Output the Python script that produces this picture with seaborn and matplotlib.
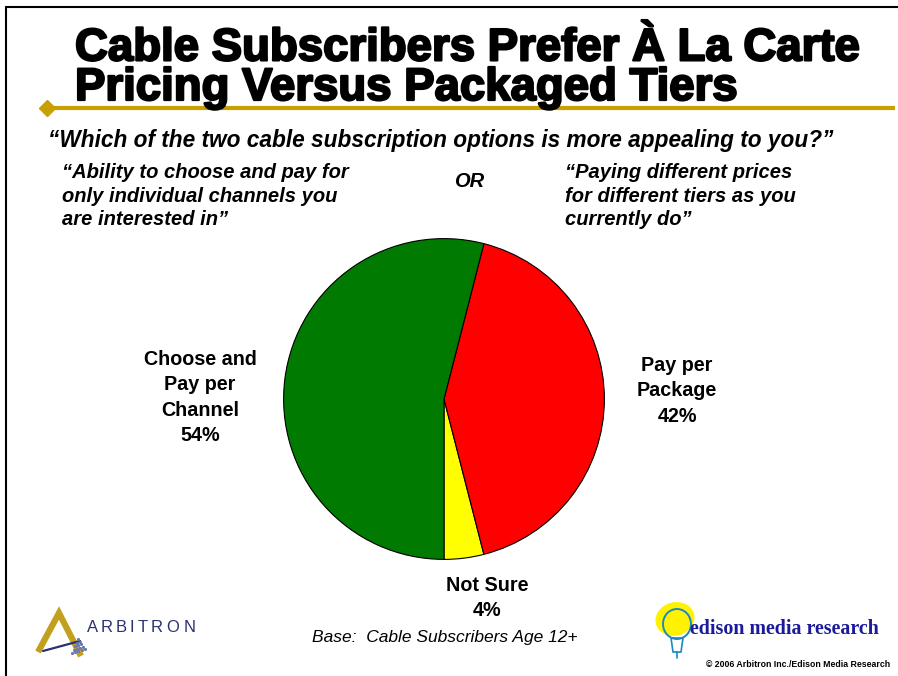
import matplotlib
matplotlib.use("Agg")
import matplotlib.pyplot as plt
import matplotlib.patheffects as pe
from matplotlib.patches import Ellipse, Polygon
import seaborn as sns

# ---- data ----
categories = ["Not Sure", "Pay per\nPackage", "Choose and\nPay per\nChannel"]
shares = [4, 42, 54]
slice_colors = ["#FFFF00", "#FF0000", "#007A00"]

title_lines = ["Cable Subscribers Prefer À La Carte", "Pricing Versus Packaged Tiers"]
question = "\u201cWhich of the two cable subscription options is more appealing to you?\u201d"
left_option = ["\u201cAbility to choose and pay for", "only individual channels you", "are interested in\u201d"]
right_option = ["\u201cPaying different prices", "for different tiers as you", "currently do\u201d"]
base_note = "Base:  Cable Subscribers Age 12+"
copyright_note = "\u00a9 2006 Arbitron Inc./Edison Media Research"

sns.set_theme(style="white")
plt.rcParams["font.family"] = ["Liberation Sans", "DejaVu Sans"]
plt.rcParams["text.color"] = "black"

W, H = 898, 676
fig = plt.figure(figsize=(W / 100, H / 100), dpi=100)
fig.patch.set_facecolor("white")

# full-page overlay working in pixel coordinates
bg = fig.add_axes([0, 0, 1, 1])
bg.set_xlim(0, W)
bg.set_ylim(H, 0)
bg.axis("off")

# page frame
bg.plot([5, W], [7, 7], color="black", lw=1.5, solid_capstyle="butt")
bg.plot([6, 6], [7, H], color="black", lw=1.5, solid_capstyle="butt")

# title (two lines, heavy weight); baseline refers to the last line
bg.text(75, 100, "\n".join(title_lines), fontsize=32.8, fontweight="bold",
        ha="left", va="baseline", linespacing=0.87, color="black",
        path_effects=[pe.withStroke(linewidth=1.6, foreground="black")])

# gold rule with diamond
gold = "#C8A000"
bg.plot([47, 895], [108, 108], color=gold, lw=3, solid_capstyle="butt")
bg.plot([47], [108], marker="D", color=gold, markersize=8)

# question and the two options
bg.text(48, 147, question, fontsize=16.3, fontweight="bold", style="italic",
        ha="left", va="baseline")
for i, line in enumerate(left_option):
    bg.text(62, 178 + i * 23.5, line, fontsize=14.5, fontweight="bold",
            style="italic", ha="left", va="baseline")
for i, line in enumerate(right_option):
    bg.text(565, 178 + i * 23.5, line, fontsize=14.5, fontweight="bold",
            style="italic", ha="left", va="baseline")
bg.text(454, 187, "OR", fontsize=14.5, fontweight="bold", style="italic",
        ha="left", va="baseline")

# pie
cx, cy, r = 444, 399, 162
pie_ax = fig.add_axes([(cx - r) / W, (H - cy - r) / H, 2 * r / W, 2 * r / H])
pie_ax.pie(shares, colors=slice_colors, startangle=-90, counterclock=True,
           wedgeprops=dict(edgecolor="black", linewidth=0.8))
pie_ax.set_xlim(-1.01, 1.01)
pie_ax.set_ylim(-1.01, 1.01)
pie_ax.set_aspect("equal")
pie_ax.axis("off")

# slice labels: (centre x, first baseline)
label_pos = [(487, 591), (677, 371), (200, 365)]
for cat, val, (lx, ly) in zip(categories, shares, label_pos):
    lines = cat.split("\n") + [f"{val}%"]
    for i, line in enumerate(lines):
        bg.text(lx, ly + i * 25.3, line, fontsize=14.2, fontweight="bold",
                ha="center", va="baseline")

# base note and copyright
bg.text(445, 642, base_note, fontsize=12.5, style="italic", ha="center", va="baseline")
bg.text(890, 667, copyright_note, fontsize=6.3, fontweight="bold", ha="right",
        va="baseline")

# Arbitron mark
navy = "#2B3170"
bg.plot([38, 59, 81], [652, 613, 656], color="#C2A01E", lw=4.5,
        solid_joinstyle="miter", solid_capstyle="butt")
bg.plot([43, 80], [651, 641], color=navy, lw=1.6)
for j in range(5):
    for k in range(5 - j):
        bg.plot(72 + k * 3.2 + j * 1.5, 653 - j * 3.5 - k * 1.0, marker="s",
                markersize=1.1, color="#6B78B0", lw=0)
letter_x = [93, 107, 121, 132, 143, 157, 173, 190]
for ch, lx in zip("ARBITRON", letter_x):
    bg.text(lx, 632, ch, fontsize=12, color=navy, ha="center", va="baseline")

# Edison mark
bg.add_patch(Ellipse((675, 619), 38, 32, angle=-15, color="#FFF200", zorder=2))
bg.add_patch(Ellipse((677, 624), 28, 30, fill=False, ec="#1E88C0", lw=1.4, zorder=3))
bg.add_patch(Polygon([[671, 638], [683, 638], [681, 652], [673, 652]], closed=True,
                     fill=False, ec="#1E88C0", lw=1.2, zorder=3))
bg.plot([677, 677], [652, 658], color="#1E88C0", lw=1.2, zorder=3)
bg.text(690, 634, "edison media research", fontsize=14.4, fontweight="bold",
        family=["Liberation Serif", "DejaVu Serif"], color="#1B1B9A",
        ha="left", va="baseline", zorder=4)

fig.savefig("out.png", dpi=100, facecolor="white")
